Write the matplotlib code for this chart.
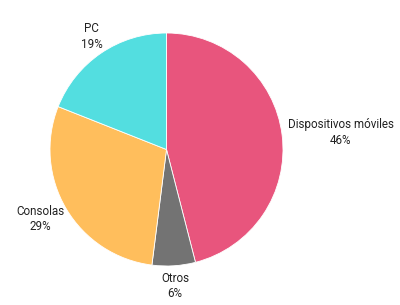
import numpy as np
import matplotlib
matplotlib.use("Agg")
import matplotlib.pyplot as plt

categories = ["Dispositivos móviles", "Otros", "Consolas", "PC"]
values = [46, 6, 29, 19]
colors = ["#E8557D", "#737373", "#FFBE5C", "#53DEE0"]

plt.rcParams['font.family'] = ['Roboto', 'DejaVu Sans']

W, H = 400, 305
fig = plt.figure(figsize=(W / 100, H / 100), dpi=100)
ax = fig.add_axes([0, 0, 1, 1])

cx, cy, r = 166.5, H - 149.5, 116.5
wedges, _ = ax.pie(values, colors=colors, startangle=90, counterclock=False,
                   center=(cx, cy), radius=r, frame=True,
                   wedgeprops=dict(edgecolor='white', linewidth=0.6))
ax.set_xlim(0, W)
ax.set_ylim(0, H)
ax.axis('off')

fig.canvas.draw()
renderer = fig.canvas.get_renderer()
total = sum(values)
gap = 6
for w, name, v in zip(wedges, categories, values):
    theta = np.deg2rad((w.theta1 + w.theta2) / 2)
    c, s = np.cos(theta), np.sin(theta)
    px, py = cx + (r + gap) * c, cy + (r + gap) * s
    t = ax.text(px, py, f"{name}\n{round(v / total * 100)}%", ha='center', va='center',
                fontsize=8.4, color='#222222', linespacing=1.25)
    bb = t.get_window_extent(renderer)
    t.set_position((px + bb.width / 2 * c, py + bb.height / 2 * s))

fig.savefig("out.png", dpi=100, facecolor='white')
